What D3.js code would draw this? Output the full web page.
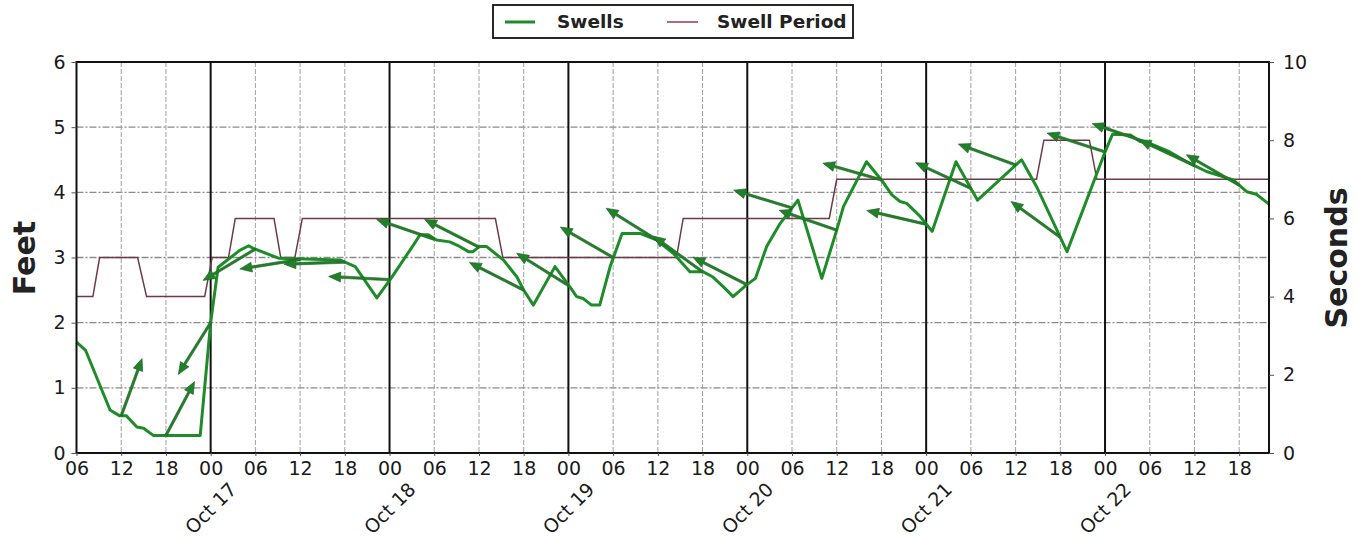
<!DOCTYPE html>
<html>
<head>
<meta charset="utf-8">
<script src="https://cdn.jsdelivr.net/npm/d3@7/dist/d3.min.js"></script>
<style>
  html, body { margin: 0; padding: 0; background: #fff; }
  svg { display: block; font-family: "DejaVu Sans", sans-serif; }
</style>
</head>
<body>
<svg id="chart" width="1364" height="539"></svg>
<script>
// ---- data (hours since Oct 16 00:00) ----
const swellTimes = [6.0, 7.2, 10.5, 11.8, 12.7, 14.1, 15.0, 16.3, 22.6, 24.0, 25.0, 27.9, 29.1, 29.7, 33.1, 41.4, 43.4, 46.3, 48.2,
  51.2, 52.1, 53.2, 54.3, 56.1, 57.4, 58.6, 59.2, 60.1, 61.0, 63.3, 65.1, 66.0, 67.3, 70.2, 72.2, 73.1, 74.0, 75.1, 76.2,
  77.6, 79.2, 81.6, 83.8, 86.1, 88.3, 90.1, 91.4, 92.8, 94.1, 95.9, 97.1, 98.6, 100.4, 102.8, 106.0, 108.0, 108.9, 112.0,
  114.0, 115.4, 116.5, 117.4, 119.2, 120.8, 124.0, 126.9, 132.8, 134.8, 138.9, 144.0, 145.0, 147.4, 148.7, 150.0, 152.7,
  154.5, 155.8, 157.6, 159.8, 161.2, 163.0, 164.3, 166.0];
const swellFeet = [1.70, 1.58, 0.66, 0.57, 0.57, 0.40, 0.38, 0.27, 0.27, 2.00, 2.85, 3.11, 3.18, 3.14, 2.99, 2.96, 2.86, 2.38, 2.68,
  3.19, 3.35, 3.35, 3.27, 3.24, 3.17, 3.09, 3.09, 3.17, 3.17, 2.96, 2.70, 2.50, 2.27, 2.86, 2.55, 2.40, 2.37, 2.27, 2.27,
  2.86, 3.37, 3.37, 3.27, 3.06, 2.78, 2.78, 2.70, 2.55, 2.40, 2.58, 2.68, 3.17, 3.52, 3.88, 2.68, 3.42, 3.78, 4.47,
  4.19, 3.96, 3.86, 3.83, 3.63, 3.40, 4.47, 3.88, 4.50, 4.09, 3.09, 4.62, 4.89, 4.88, 4.78, 4.75, 4.62,
  4.50, 4.42, 4.32, 4.24, 4.19, 4.01, 3.97, 3.82];

const periodTimes = [6, 8.2, 9.1, 14.2, 15.4, 23.2, 24.2, 26.4, 27.3, 32.5, 33.4, 35.3, 36.3, 62.2, 63.2, 86.5, 87.4,
  107.0, 108.0, 134.8, 135.8, 141.9, 142.9, 166];
const periodSecs = [4, 4, 5, 5, 4, 4, 5, 5, 6, 6, 5, 5, 6, 6, 5, 5, 6, 6, 7, 7, 8, 8, 7, 7];

const arrowTimes = [12, 18, 24, 30, 36, 42, 48, 54, 60, 66, 72, 78, 84, 90, 96, 102, 108, 114, 120, 126, 132, 138, 144, 150, 156, 162];
const arrowFeet = [0.57, 0.27, 2.00, 3.13, 2.97, 2.93, 2.66, 3.28, 3.16, 2.50, 2.57, 3.00, 3.26, 2.78, 2.58, 3.76, 3.42, 4.19,
  3.51, 4.06, 4.42, 3.31, 4.62, 4.75, 4.41, 4.11];
const arrowBearing = [20, 28, 212, 239, 261, 268, 273, 289, 297, 297, 302, 300, 302, 306, 297, 287, 289, 286, 283, 295, 290,
  306, 288, 289, 295, 300];

const feetTicks = [0, 1, 2, 3, 4, 5, 6];
const secondTicks = [0, 2, 4, 6, 8, 10];
const legendLabels = ["Swells", "Swell Period"];

// ---- setup ----
const base = new Date(2015, 9, 16, 0, 0, 0).getTime();
const toDate = h => new Date(base + h * 3600 * 1000);

const M = { left: 76.5, right: 1269, top: 62, bottom: 453 };
const svg = d3.select("#chart");

const x = d3.scaleTime().domain([toDate(6), toDate(166)]).range([M.left, M.right]);
const yL = d3.scaleLinear().domain([0, 6]).range([M.bottom, M.top]);
const yR = d3.scaleLinear().domain([0, 10]).range([M.bottom, M.top]);

const allTicks = d3.timeHour.every(6).range(toDate(6), toDate(166.01));
const midnights = allTicks.filter(d => d.getHours() === 0);
const nonMid = allTicks.filter(d => d.getHours() !== 0);

// grid
const grid = svg.append("g");
grid.selectAll("line.hg").data(feetTicks.filter(v => v > 0 && v < 6)).enter().append("line")
  .attr("x1", M.left).attr("x2", M.right)
  .attr("y1", d => yL(d)).attr("y2", d => yL(d))
  .attr("stroke", "#8a8a8a").attr("stroke-width", 1.3).attr("stroke-dasharray", "7,2,2,2");
grid.selectAll("line.vg").data(nonMid).enter().append("line")
  .attr("x1", d => x(d)).attr("x2", d => x(d))
  .attr("y1", M.top).attr("y2", M.bottom)
  .attr("stroke", "#a0a0a0").attr("stroke-width", 1).attr("stroke-dasharray", "5,2");
grid.selectAll("line.mid").data(midnights).enter().append("line")
  .attr("x1", d => x(d)).attr("x2", d => x(d))
  .attr("y1", M.top).attr("y2", M.bottom)
  .attr("stroke", "#111").attr("stroke-width", 2);

// period line
const periodData = periodTimes.map((t, i) => [t, periodSecs[i]]);
svg.append("path").datum(periodData)
  .attr("fill", "none").attr("stroke", "#6e3a48").attr("stroke-width", 1.5)
  .attr("d", d3.line().x(d => x(toDate(d[0]))).y(d => yR(d[1])));

// swell line
const swellData = swellTimes.map((t, i) => [t, swellFeet[i]]);
svg.append("path").datum(swellData)
  .attr("fill", "none").attr("stroke", "#1f8c2a").attr("stroke-width", 3)
  .attr("stroke-linejoin", "round")
  .attr("d", d3.line().x(d => x(toDate(d[0]))).y(d => yL(d[1])));

// arrows
const L = 61, headLen = 12, headHalf = 5, shaftHalf = 1.2;
const arrowData = arrowTimes.map((t, i) => ({ t, f: arrowFeet[i], b: arrowBearing[i] }));
svg.append("g").selectAll("path").data(arrowData).enter().append("path")
  .attr("fill", "#23802a").attr("stroke", "#1c5e22").attr("stroke-width", 0.6)
  .attr("d", d => {
    const x0 = x(toDate(d.t)), y0 = yL(d.f);
    const r = d.b * Math.PI / 180;
    const ux = Math.sin(r), uy = -Math.cos(r);
    const px = -uy, py = ux;
    const bx = x0 + ux * (L - headLen), by = y0 + uy * (L - headLen);
    const tx = x0 + ux * L, ty = y0 + uy * L;
    const pts = [
      [x0 + px * shaftHalf, y0 + py * shaftHalf],
      [bx + px * shaftHalf, by + py * shaftHalf],
      [bx + px * headHalf, by + py * headHalf],
      [tx, ty],
      [bx - px * headHalf, by - py * headHalf],
      [bx - px * shaftHalf, by - py * shaftHalf],
      [x0 - px * shaftHalf, y0 - py * shaftHalf]
    ];
    return "M" + pts.map(p => p[0].toFixed(2) + "," + p[1].toFixed(2)).join("L") + "Z";
  });

// frame
svg.append("rect").attr("x", M.left).attr("y", M.top)
  .attr("width", M.right - M.left).attr("height", M.bottom - M.top)
  .attr("fill", "none").attr("stroke", "#111").attr("stroke-width", 2);

// axes
const axL = svg.append("g").attr("transform", `translate(${M.left},0)`)
  .call(d3.axisLeft(yL).tickValues(feetTicks).tickFormat(d3.format("d")).tickSize(5).tickPadding(6));
const axR = svg.append("g").attr("transform", `translate(${M.right},0)`)
  .call(d3.axisRight(yR).tickValues(secondTicks).tickFormat(d3.format("d")).tickSize(5).tickPadding(9));
const axB = svg.append("g").attr("transform", `translate(0,${M.bottom})`)
  .call(d3.axisBottom(x).tickValues(allTicks).tickFormat(d3.timeFormat("%H")).tickSize(3).tickPadding(6));
[axL, axR, axB].forEach(a => {
  a.select(".domain").remove();
  a.selectAll(".tick line").attr("stroke", "#555");
  a.selectAll("text").attr("font-size", 19).attr("fill", "#1a1a1a").attr("font-family", "DejaVu Sans");
});

// day labels
svg.append("g").selectAll("text").data(midnights).enter().append("text")
  .attr("transform", d => `translate(${x(d)},${508}) rotate(-45)`)
  .attr("text-anchor", "middle").attr("dominant-baseline", "central")
  .attr("font-size", 19).attr("fill", "#1a1a1a")
  .text(d3.timeFormat("%b %d"));

// axis titles
svg.append("text").attr("transform", "translate(24,258) rotate(-90)")
  .attr("text-anchor", "middle").attr("dominant-baseline", "central")
  .attr("font-size", 30).attr("font-weight", "bold").attr("fill", "#222").text("Feet");
svg.append("text").attr("transform", "translate(1336,258) rotate(-90)")
  .attr("text-anchor", "middle").attr("dominant-baseline", "central")
  .attr("font-size", 30).attr("font-weight", "bold").attr("fill", "#222").text("Seconds");

// legend
const lg = svg.append("g");
lg.append("rect").attr("x", 493).attr("y", 5).attr("width", 360).attr("height", 33)
  .attr("fill", "#fff").attr("stroke", "#111").attr("stroke-width", 1.8);
lg.append("line").attr("x1", 505).attr("x2", 535).attr("y1", 22).attr("y2", 22)
  .attr("stroke", "#1f8c2a").attr("stroke-width", 3);
lg.append("line").attr("x1", 667).attr("x2", 698).attr("y1", 22).attr("y2", 22)
  .attr("stroke", "#b06a7c").attr("stroke-width", 2);
lg.append("text").attr("x", 557).attr("y", 28).attr("font-size", 18.5).attr("font-weight", "bold")
  .attr("fill", "#222").text(legendLabels[0]);
lg.append("text").attr("x", 717).attr("y", 28).attr("font-size", 18.5).attr("font-weight", "bold")
  .attr("fill", "#222").text(legendLabels[1]);
</script>
</body>
</html>
